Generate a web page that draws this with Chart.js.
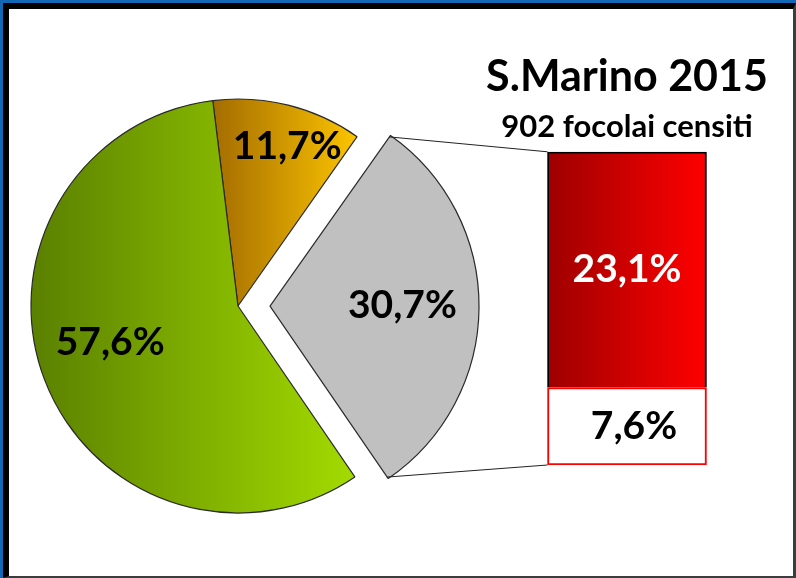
<!DOCTYPE html>
<html>
<head>
<meta charset="utf-8">
<script src="https://cdn.jsdelivr.net/npm/chart.js@4.4.1/dist/chart.umd.min.js"></script>
<style>
  body { margin: 0; background: #ffffff; }
  #cornice {
    position: absolute; left: 0; top: 0; width: 796px; height: 578px;
    background: #1268b4;
  }
  #interno {
    position: absolute; left: 3px; top: 3px; width: 793px; height: 575px;
    box-sizing: border-box; background: #ffffff;
    border-left: 6px solid #000; border-top: 6px solid #000;
    border-right: 3px solid #3c3c3c; border-bottom: 2px solid #3c3c3c;
  }
  #torta { position: absolute; left: 0; top: 0; }
  #barra { position: absolute; left: 472px; top: 40px; }
</style>
</head>
<body>
<div id="cornice"><div id="interno"></div></div>
<canvas id="torta" width="796" height="578"></canvas>
<canvas id="barra" width="310" height="440"></canvas>
<script>
// Dati (percentuali)
const categorieTorta = ['Quota A', 'Quota B', 'Quota C'];
const valoriTorta = [11.7, 30.7, 57.6];
const categorieBarra = ['Quota B2', 'Quota B1'];
const valoriBarra = [7.6, 23.1];
const titolo = 'S.Marino 2015';
const sottotitolo = '902 focolai censiti';

// Stile
const RAGGIO = 207;
const ROTAZIONE = -7;
const ESPLOSO = [0, 32, 0];          // spostamento in pixel della fetta staccata
const POS_ETICHETTE = [0.8, 0.64, 0.65];
const RITOCCO_ETICHETTE = [[9, 1], [0, -2], [-2, -11]];
const FONT = 'Lato';
const BARRA_X = 472, BARRA_Y = 40;

const formatPerc = v => v.toFixed(1).replace('.', ',') + '%';

// estensione orizzontale di una fetta, per il gradiente
function estensioneFetta(chart, i) {
  const area = chart.chartArea;
  const cx = (area.left + area.right) / 2;
  const totale = valoriTorta.reduce((a, b) => a + b, 0);
  const prima = valoriTorta.slice(0, i).reduce((a, b) => a + b, 0);
  const a0 = (ROTAZIONE - 90) * Math.PI / 180 + prima / totale * 2 * Math.PI;
  const a1 = a0 + valoriTorta[i] / totale * 2 * Math.PI;
  const xs = [0, Math.cos(a0), Math.cos(a1)];
  for (let k = -2; k <= 4; k++) {
    const a = k * Math.PI;
    if (a > a0 && a < a1) xs.push(Math.cos(a));
  }
  return [cx + Math.min(...xs) * RAGGIO, cx + Math.max(...xs) * RAGGIO];
}

function coloreFetta(context) {
  const chart = context.chart;
  if (!chart.chartArea) return '#cccccc';
  const i = context.dataIndex;
  if (i === 1) return '#c0c0c0';
  const [x0, x1] = estensioneFetta(chart, i);
  const g = chart.ctx.createLinearGradient(x0, 0, x1, 0);
  if (i === 0) {
    g.addColorStop(0, '#a46c00');
    g.addColorStop(1, '#fcc500');
  } else {
    g.addColorStop(0, '#5a8000');
    g.addColorStop(1, '#a3db00');
  }
  return g;
}

function coloreRosso(context) {
  const chart = context.chart;
  const meta = chart.getDatasetMeta(context.datasetIndex);
  const el = meta.data[0];
  if (!chart.chartArea || !el || !el.width) return '#e00000';
  const g = chart.ctx.createLinearGradient(el.x - el.width / 2, 0, el.x + el.width / 2, 0);
  g.addColorStop(0, '#9e0000');
  g.addColorStop(1, '#ff0000');
  return g;
}

// Etichette sulla barra
const etichetteBarra = {
  id: 'etichetteBarra',
  afterDatasetsDraw(chart) {
    const ctx = chart.ctx;
    ctx.save();
    ctx.font = `bold 39px ${FONT}`;
    ctx.textAlign = 'center';
    ctx.textBaseline = 'middle';
    chart.data.datasets.forEach((ds, d) => {
      const el = chart.getDatasetMeta(d).data[0];
      ctx.fillStyle = d === 1 ? '#ffffff' : '#000000';
      const sposta = d === 0 ? 7 : 0;
      ctx.fillText(formatPerc(ds.data[0]), el.x + sposta, (el.y + el.base) / 2);
    });
    ctx.restore();
  }
};

const graficoBarra = new Chart(document.getElementById('barra'), {
  type: 'bar',
  data: {
    labels: [''],
    datasets: [
      {
        label: categorieBarra[0],
        data: [valoriBarra[0]],
        backgroundColor: '#ffffff',
        borderColor: '#ff0000',
        borderWidth: 2,
        borderSkipped: false
      },
      {
        label: categorieBarra[1],
        data: [valoriBarra[1]],
        backgroundColor: coloreRosso,
        borderColor: '#000000',
        borderWidth: 2,
        borderSkipped: 'bottom'
      }
    ]
  },
  options: {
    responsive: false,
    animation: false,
    events: [],
    barThickness: 159,
    layout: { padding: { left: 0, right: 0, top: 11, bottom: 15 } },
    scales: {
      x: { stacked: true, display: false },
      y: { stacked: true, display: false, min: 0, max: valoriBarra.reduce((a, b) => a + b, 0) }
    },
    plugins: {
      legend: { display: false },
      tooltip: { enabled: false },
      title: {
        display: true,
        text: titolo,
        color: '#000000',
        font: { family: FONT, size: 43, weight: 'bold' },
        padding: { top: 0, bottom: 0 }
      },
      subtitle: {
        display: true,
        text: sottotitolo,
        color: '#000000',
        font: { family: FONT, size: 31, weight: 'bold' },
        padding: { top: 6, bottom: 6 }
      }
    }
  },
  plugins: [etichetteBarra]
});
// il gradiente dipende dalla posizione della barra: ridisegno
graficoBarra.update('none');

// Etichette della torta e linee di collegamento alla barra
const etichetteTorta = {
  id: 'etichetteTorta',
  afterDatasetsDraw(chart) {
    const ctx = chart.ctx;
    const meta = chart.getDatasetMeta(0);
    ctx.save();
    ctx.font = `bold 39px ${FONT}`;
    ctx.textAlign = 'center';
    ctx.textBaseline = 'middle';
    ctx.fillStyle = '#000000';
    meta.data.forEach((arc, i) => {
      const p = arc.getProps(['x', 'y', 'startAngle', 'endAngle', 'outerRadius'], true);
      const mid = (p.startAngle + p.endAngle) / 2;
      const r = ESPLOSO[i] + POS_ETICHETTE[i] * p.outerRadius;
      const [nx, ny] = RITOCCO_ETICHETTE[i];
      ctx.fillText(formatPerc(valoriTorta[i]), p.x + Math.cos(mid) * r + nx, p.y + Math.sin(mid) * r + ny);
    });

    // linee verso la barra
    const arc = meta.data[1];
    const p = arc.getProps(['x', 'y', 'startAngle', 'endAngle', 'outerRadius'], true);
    const mid = (p.startAngle + p.endAngle) / 2;
    const ox = p.x + Math.cos(mid) * ESPLOSO[1];
    const oy = p.y + Math.sin(mid) * ESPLOSO[1];
    const barraEl = graficoBarra.getDatasetMeta(1).data[0];
    const baseEl = graficoBarra.getDatasetMeta(0).data[0];
    const xSin = BARRA_X + barraEl.x - barraEl.width / 2;
    ctx.strokeStyle = '#222222';
    ctx.lineWidth = 1;
    ctx.beginPath();
    ctx.moveTo(ox + Math.cos(p.startAngle) * p.outerRadius, oy + Math.sin(p.startAngle) * p.outerRadius);
    ctx.lineTo(xSin, BARRA_Y + barraEl.y);
    ctx.moveTo(ox + Math.cos(p.endAngle) * p.outerRadius, oy + Math.sin(p.endAngle) * p.outerRadius);
    ctx.lineTo(xSin, BARRA_Y + baseEl.base);
    ctx.stroke();
    ctx.restore();
  }
};

new Chart(document.getElementById('torta'), {
  type: 'pie',
  data: {
    labels: categorieTorta,
    datasets: [{
      data: valoriTorta,
      backgroundColor: coloreFetta,
      borderColor: '#2a2a2a',
      borderWidth: 1.2,
      // Chart.js sposta la fetta di offset/4 pixel
      offset: ESPLOSO.map(v => v * 4)
    }]
  },
  options: {
    responsive: false,
    animation: false,
    events: [],
    radius: RAGGIO,
    rotation: ROTAZIONE,
    layout: { padding: { left: 14, right: 334, top: 80, bottom: 46 } },
    plugins: {
      legend: { display: false },
      tooltip: { enabled: false }
    }
  },
  plugins: [etichetteTorta]
});
</script>
</body>
</html>
